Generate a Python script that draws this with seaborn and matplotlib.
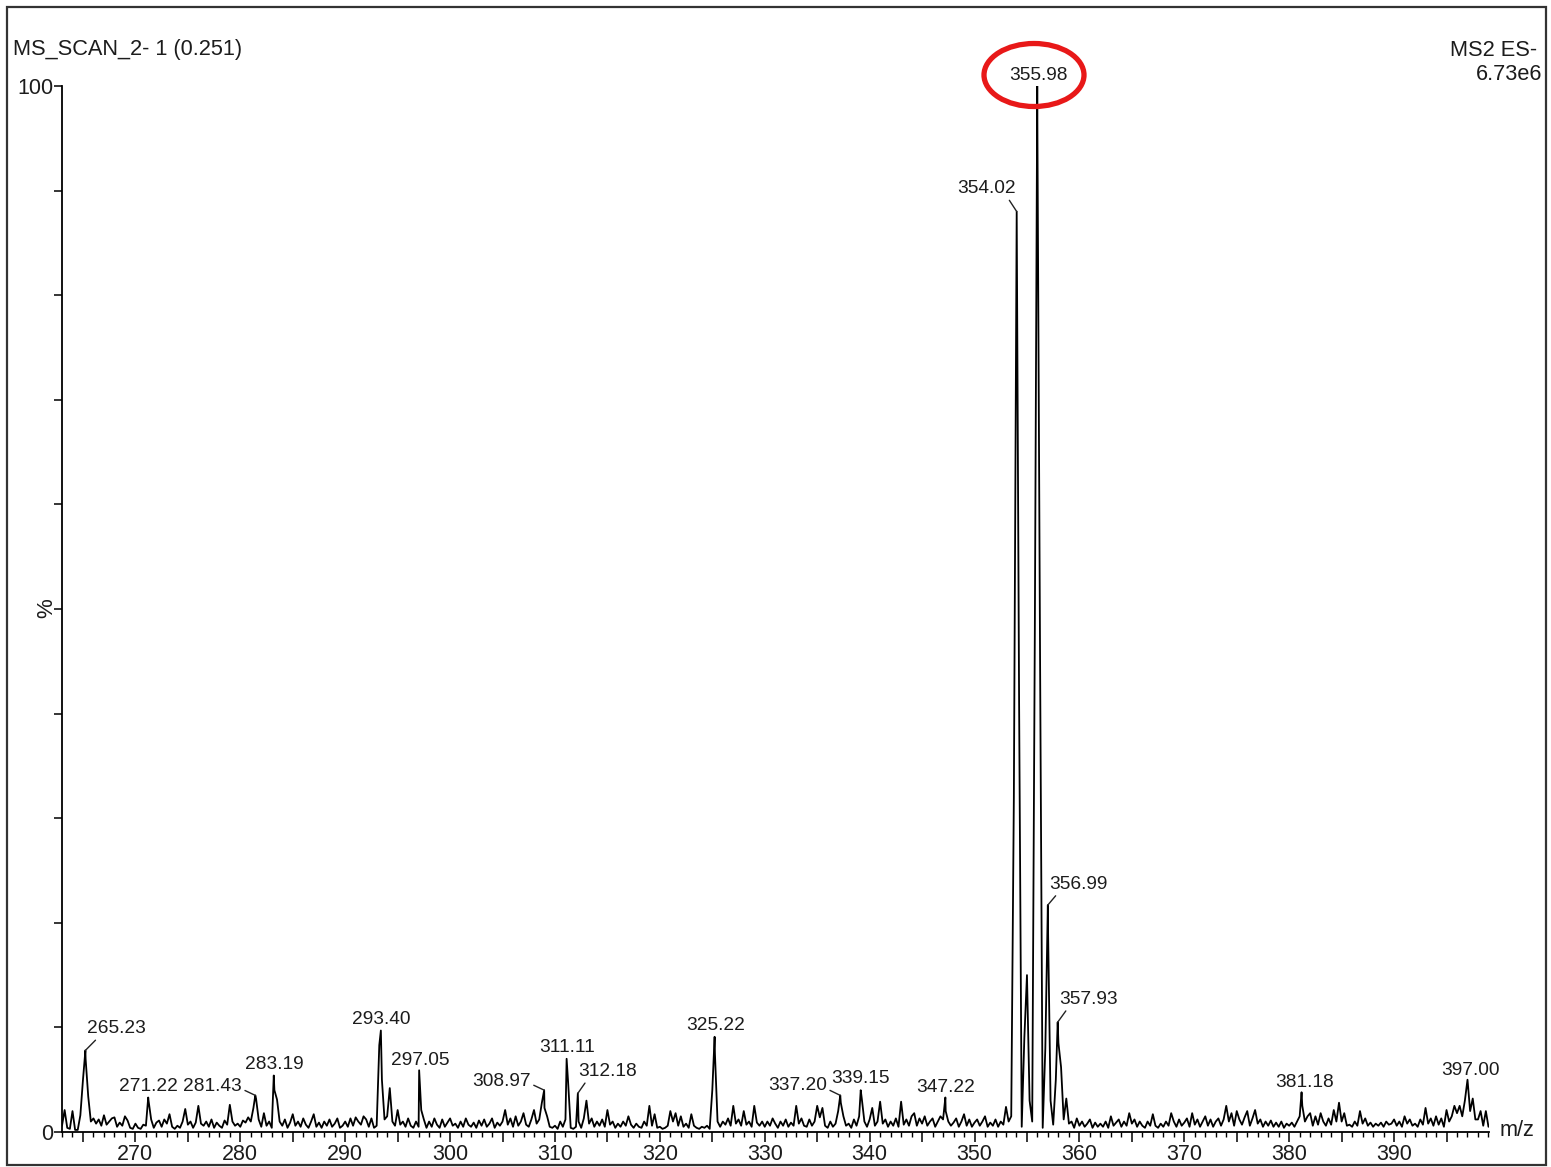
import numpy as np
import pandas as pd
import matplotlib
matplotlib.use("Agg")
import matplotlib.pyplot as plt
import matplotlib.patches as mpatches
from matplotlib.ticker import FixedLocator, MultipleLocator
import seaborn as sns

# ---------------- data ----------------
mz_start = 263.0
mz_step = 0.25
# profile intensity (%), one row per integer m/z: .00 .25 .50 .75
profile_intensity = [
    0.6, 2.1, 0.4, 0.3,   # 263
    2.0, 0.2, 0.2, 1.6,   # 264
    5.0, 7.0, 3.4, 1.0,   # 265
    1.3, 0.8, 1.2, 0.6,   # 266
    1.6, 0.7, 1.0, 1.3,   # 267
    1.4, 0.5, 0.9, 0.6,   # 268
    1.5, 1.1, 0.4, 0.3,   # 269
    0.8, 0.4, 0.3, 0.7,   # 270
    0.6, 3.0, 1.2, 0.4,   # 271
    0.9, 1.1, 0.5, 1.2,   # 272
    0.8, 1.7, 0.5, 0.3,   # 273
    0.6, 0.4, 1.0, 2.2,   # 274
    0.7, 1.0, 0.4, 0.9,   # 275
    2.5, 0.8, 0.6, 1.0,   # 276
    0.5, 1.2, 0.4, 0.9,   # 277
    0.6, 0.4, 1.1, 0.7,   # 278
    2.6, 1.0, 0.6, 0.8,   # 279
    0.5, 1.1, 0.9, 1.4,   # 280
    1.0, 2.3, 3.2, 1.2,   # 281
    0.5, 1.8, 0.6, 1.0,   # 282
    0.4, 4.0, 3.1, 1.0,   # 283
    0.6, 1.2, 0.4, 0.9,   # 284
    1.7, 0.6, 1.0, 0.5,   # 285
    1.3, 0.7, 0.4, 1.0,   # 286
    1.7, 0.5, 0.9, 0.4,   # 287
    1.0, 0.6, 1.2, 0.5,   # 288
    0.8, 1.3, 0.4, 0.6,   # 289
    1.0, 0.5, 1.3, 0.6,   # 290
    1.4, 1.0, 0.7, 1.5,   # 291
    1.2, 0.5, 1.3, 0.4,   # 292
    0.6, 8.3, 5.0, 1.2,   # 293
    1.5, 4.2, 1.0, 0.6,   # 294
    2.1, 0.7, 1.0, 0.5,   # 295
    1.3, 0.6, 0.4, 1.0,   # 296
    0.5, 2.1, 1.2, 0.4,   # 297
    1.0, 0.5, 1.3, 0.7,   # 298
    0.4, 1.2, 0.5, 0.9,   # 299
    1.3, 0.6, 0.8, 0.4,   # 300
    1.0, 0.5, 1.3, 0.7,   # 301
    0.5, 0.9, 0.4, 1.1,   # 302
    0.6, 1.2, 0.5, 0.8,   # 303
    1.3, 0.4, 0.9, 0.6,   # 304
    1.0, 2.1, 0.7, 1.3,   # 305
    0.5, 1.5, 0.6, 1.0,   # 306
    1.8, 0.7, 0.5, 1.2,   # 307
    2.1, 0.8, 1.2, 2.8,   # 308
    2.3, 1.5, 0.5, 0.4,   # 309
    0.6, 0.3, 1.0, 0.5,   # 310
    1.2, 4.8, 0.4, 0.3,   # 311
    0.5, 1.0, 0.4, 1.3,   # 312
    3.0, 0.8, 1.3, 0.5,   # 313
    1.0, 0.6, 1.2, 0.5,   # 314
    2.1, 0.7, 1.0, 0.4,   # 315
    0.8, 0.5, 1.0, 0.6,   # 316
    1.5, 0.7, 0.4, 0.8,   # 317
    0.5, 0.4, 1.0, 0.6,   # 318
    2.5, 0.6, 1.7, 0.4,   # 319
    0.5, 0.3, 0.4, 0.6,   # 320
    2.0, 1.0, 1.8, 0.6,   # 321
    1.5, 0.5, 0.8, 0.4,   # 322
    1.7, 0.6, 0.4, 0.3,   # 323
    0.5, 0.4, 0.6, 0.3,   # 324
    4.0, 7.5, 1.0, 0.5,   # 325
    1.0, 0.7, 1.3, 0.6,   # 326
    2.5, 0.8, 1.2, 0.6,   # 327
    2.0, 0.7, 1.0, 0.5,   # 328
    2.5, 0.9, 0.6, 1.0,   # 329
    0.5, 1.0, 0.6, 1.3,   # 330
    0.8, 0.4, 1.0, 0.6,   # 331
    1.2, 0.5, 0.9, 0.6,   # 332
    2.5, 0.8, 1.3, 0.6,   # 333
    0.5, 1.2, 0.6, 1.0,   # 334
    2.5, 1.4, 2.3, 0.6,   # 335
    0.4, 1.0, 0.5, 0.8,   # 336
    2.0, 2.8, 1.5, 0.6,   # 337
    0.8, 0.4, 1.2, 0.6,   # 338
    1.5, 3.2, 1.0, 0.5,   # 339
    1.2, 2.3, 0.6, 1.0,   # 340
    2.9, 0.8, 1.2, 0.5,   # 341
    1.0, 0.6, 1.3, 0.5,   # 342
    2.9, 0.7, 1.2, 0.6,   # 343
    1.5, 1.8, 0.6, 1.3,   # 344
    0.8, 1.5, 0.6, 1.0,   # 345
    1.3, 0.5, 1.0, 1.5,   # 346
    1.2, 2.0, 1.0, 0.6,   # 347
    0.9, 1.3, 0.5, 1.0,   # 348
    1.7, 0.6, 1.2, 0.5,   # 349
    0.9, 1.2, 0.6, 1.0,   # 350
    1.5, 0.5, 0.9, 0.6,   # 351
    1.2, 0.5, 1.0, 0.7,   # 352
    2.4, 1.0, 1.5, 32.0,  # 353
    84.0, 41.0, 0.5, 9.0, # 354
    15.0, 3.0, 1.0, 48.0, # 355
    95.0, 45.0, 0.4, 8.0, # 356
    20.0, 3.0, 0.7, 5.0,  # 357
    8.5, 6.2, 1.2, 3.2,   # 358
    0.8, 1.0, 0.4, 1.3,   # 359
    0.6, 1.0, 0.5, 0.8,   # 360
    1.2, 0.4, 0.9, 0.5,   # 361
    0.8, 0.5, 1.0, 0.4,   # 362
    1.5, 0.6, 0.9, 1.2,   # 363
    0.5, 1.0, 0.6, 1.8,   # 364
    0.8, 1.2, 0.5, 1.0,   # 365
    0.6, 0.4, 1.0, 0.6,   # 366
    1.7, 0.6, 0.4, 0.8,   # 367
    0.5, 1.0, 0.6, 1.8,   # 368
    1.0, 0.5, 1.2, 0.6,   # 369
    0.9, 1.3, 0.5, 1.8,   # 370
    0.7, 1.2, 0.5, 1.0,   # 371
    1.5, 0.6, 1.2, 0.5,   # 372
    1.0, 1.3, 0.6, 1.2,   # 373
    2.5, 1.0, 1.8, 0.6,   # 374
    2.0, 1.2, 0.7, 1.4,   # 375
    2.0, 0.6, 1.3, 2.1,   # 376
    0.8, 1.2, 0.5, 1.0,   # 377
    0.6, 1.1, 0.5, 0.9,   # 378
    0.5, 1.0, 0.4, 0.8,   # 379
    0.6, 0.9, 0.5, 1.0,   # 380
    1.5, 2.5, 1.0, 1.5,   # 381
    1.8, 0.6, 1.5, 0.7,   # 382
    1.8, 1.0, 0.6, 1.3,   # 383
    0.7, 2.1, 1.0, 2.8,   # 384
    1.0, 1.8, 0.6, 0.7,   # 385
    0.5, 1.0, 0.6, 2.0,   # 386
    0.8, 1.3, 0.6, 0.9,   # 387
    0.5, 0.8, 0.6, 0.9,   # 388
    0.5, 1.0, 0.7, 0.8,   # 389
    1.2, 0.6, 1.0, 0.5,   # 390
    1.5, 0.8, 1.2, 0.6,   # 391
    0.8, 0.5, 1.2, 0.7,   # 392
    2.3, 0.8, 1.3, 0.6,   # 393
    1.5, 0.7, 1.3, 0.5,   # 394
    2.1, 1.0, 1.5, 2.5,   # 395
    1.8, 2.5, 1.5, 3.0,   # 396
    5.0, 2.0, 3.2, 1.2,   # 397
    1.2, 2.0, 0.6, 2.0,   # 398
    0.5,                  # 399
]

# labelled peak apexes
peak_mz = [265.23, 271.22, 281.43, 283.19, 293.40, 297.05, 308.97, 311.11,
           312.18, 325.22, 337.20, 339.15, 347.22, 354.02, 355.98, 356.99,
           357.93, 381.18, 397.00]
peak_intensity = [7.8, 3.3, 3.5, 5.4, 9.7, 5.9, 4.0, 7.0,
                  3.7, 9.1, 3.5, 4.0, 3.3, 88.0, 100.0, 21.7,
                  10.5, 3.8, 5.0]
peak_labels = ["265.23", "271.22", "281.43", "283.19", "293.40", "297.05",
               "308.97", "311.11", "312.18", "325.22", "337.20", "339.15",
               "347.22", "354.02", "355.98", "356.99", "357.93", "381.18",
               "397.00"]

x_tick_labels = ["270", "280", "290", "300", "310", "320", "330", "340",
                 "350", "360", "370", "380", "390"]
title_left = "MS_SCAN_2- 1 (0.251)"
title_right = ["MS2 ES-", "6.73e6"]

# ---------------- styles (label offsets in pixels, leader anchor) ----------------
label_offset = [(31, 22), (0, 11), (-43, 9), (1, 11), (0, 11), (1, 10),
                (-43, 9), (0, 11), (30, 22), (1, 11), (-43, 10), (0, 12),
                (0, 10), (-30, 23), (1, 11), (31, 21), (31, 23), (3, 10),
                (3, 9)]
label_leader = [(0.2, 0), None, (1.0, 0.35), None, None, None,
                (1.0, 0.35), None, (0.15, 0), None, (1.0, 0.3), None,
                None, (0.85, 0), None, (0.15, 0), (0.15, 0), None, None]

# ---------------- build frame ----------------
grid_mz = mz_start + mz_step * np.arange(len(profile_intensity))
df = pd.DataFrame({
    "mz": np.concatenate([grid_mz, np.array(peak_mz)]),
    "intensity": np.concatenate([np.array(profile_intensity), np.array(peak_intensity)]),
}).sort_values("mz", kind="stable").reset_index(drop=True)

# ---------------- plot ----------------
sns.set_style("ticks")
plt.rcParams["font.family"] = ["Liberation Sans", "DejaVu Sans"]
TXT = "#1c1c1c"

W, H = 1551, 1167
fig = plt.figure(figsize=(W / 100, H / 100), dpi=100)
ax = fig.add_axes([62 / W, 1 - 1132 / H, (1489 - 62) / W, (1132 - 86) / H])

sns.lineplot(data=df, x="mz", y="intensity", ax=ax, color="black",
             linewidth=1.3, estimator=None, sort=True)

ax.set_xlim(263.0, 399.05)
ax.set_ylim(0, 100)
ax.set_xlabel("")
ax.set_ylabel("")
for s in ["top", "right"]:
    ax.spines[s].set_visible(False)
for s in ["left", "bottom"]:
    ax.spines[s].set_linewidth(1.3)
    ax.spines[s].set_color("black")

major_x = list(range(265, 400, 5))
ax.xaxis.set_major_locator(FixedLocator(major_x))
lab_map = {int(t): t for t in x_tick_labels}
ax.set_xticklabels([lab_map.get(v, "") for v in major_x])
ax.xaxis.set_minor_locator(MultipleLocator(1))
ax.tick_params(axis="x", which="major", length=7.2, width=1.1, pad=1.5,
               labelsize=15.5, colors="black", labelcolor=TXT, direction="out")
ax.tick_params(axis="x", which="minor", length=3.6, width=1.0, direction="out",
               colors="black")

ax.yaxis.set_major_locator(FixedLocator(list(range(0, 101, 10))))
ax.set_yticklabels(["0"] + [""] * 9 + ["100"])
ax.tick_params(axis="y", which="major", length=5.8, width=1.1, pad=0.5,
               labelsize=15.5, colors="black", labelcolor=TXT, direction="out")
ax.grid(False)

# peak labels
for mz, inten, lab, off, lead in zip(peak_mz, peak_intensity, peak_labels,
                                     label_offset, label_leader):
    kw = {}
    if lead is not None:
        kw["arrowprops"] = dict(arrowstyle="-", color="#222222", lw=1.0,
                                shrinkA=0, shrinkB=0, relpos=lead)
    ax.annotate(lab, xy=(mz, inten), xytext=off, textcoords="offset pixels",
                ha="center", va="center", fontsize=13.8, color=TXT,
                annotation_clip=False, **kw)

# texts around the axes
fig.text(13 / W, 1 - 50 / H, title_left, ha="left", va="center",
         fontsize=15.7, color=TXT)
fig.text(1537 / W, 1 - 50 / H, title_right[0], ha="right", va="center",
         fontsize=15.7, color=TXT)
fig.text(1542 / W, 1 - 74 / H, title_right[1], ha="right", va="center",
         fontsize=15.7, color=TXT)
fig.text(47 / W, 1 - 608 / H, "%", rotation=90, ha="center", va="center",
         fontsize=16, color=TXT)
fig.text(1517 / W, 1 - 1131 / H, "m/z", ha="center", va="center",
         fontsize=15.7, color=TXT)

# outer frame
fig.patches.append(mpatches.Rectangle((7 / W, 1 - 1165 / H), (1546 - 7) / W,
                                      (1165 - 7) / H, transform=fig.transFigure,
                                      fill=False, edgecolor="#333333", lw=1.6))
# red highlight ellipse around the base peak label
fig.patches.append(mpatches.Ellipse((1034 / W, 1 - 75 / H), 100 / W, 63 / H,
                                    transform=fig.transFigure, fill=False,
                                    edgecolor="#e81818", lw=3.8))

fig.savefig("out.png", dpi=100)
